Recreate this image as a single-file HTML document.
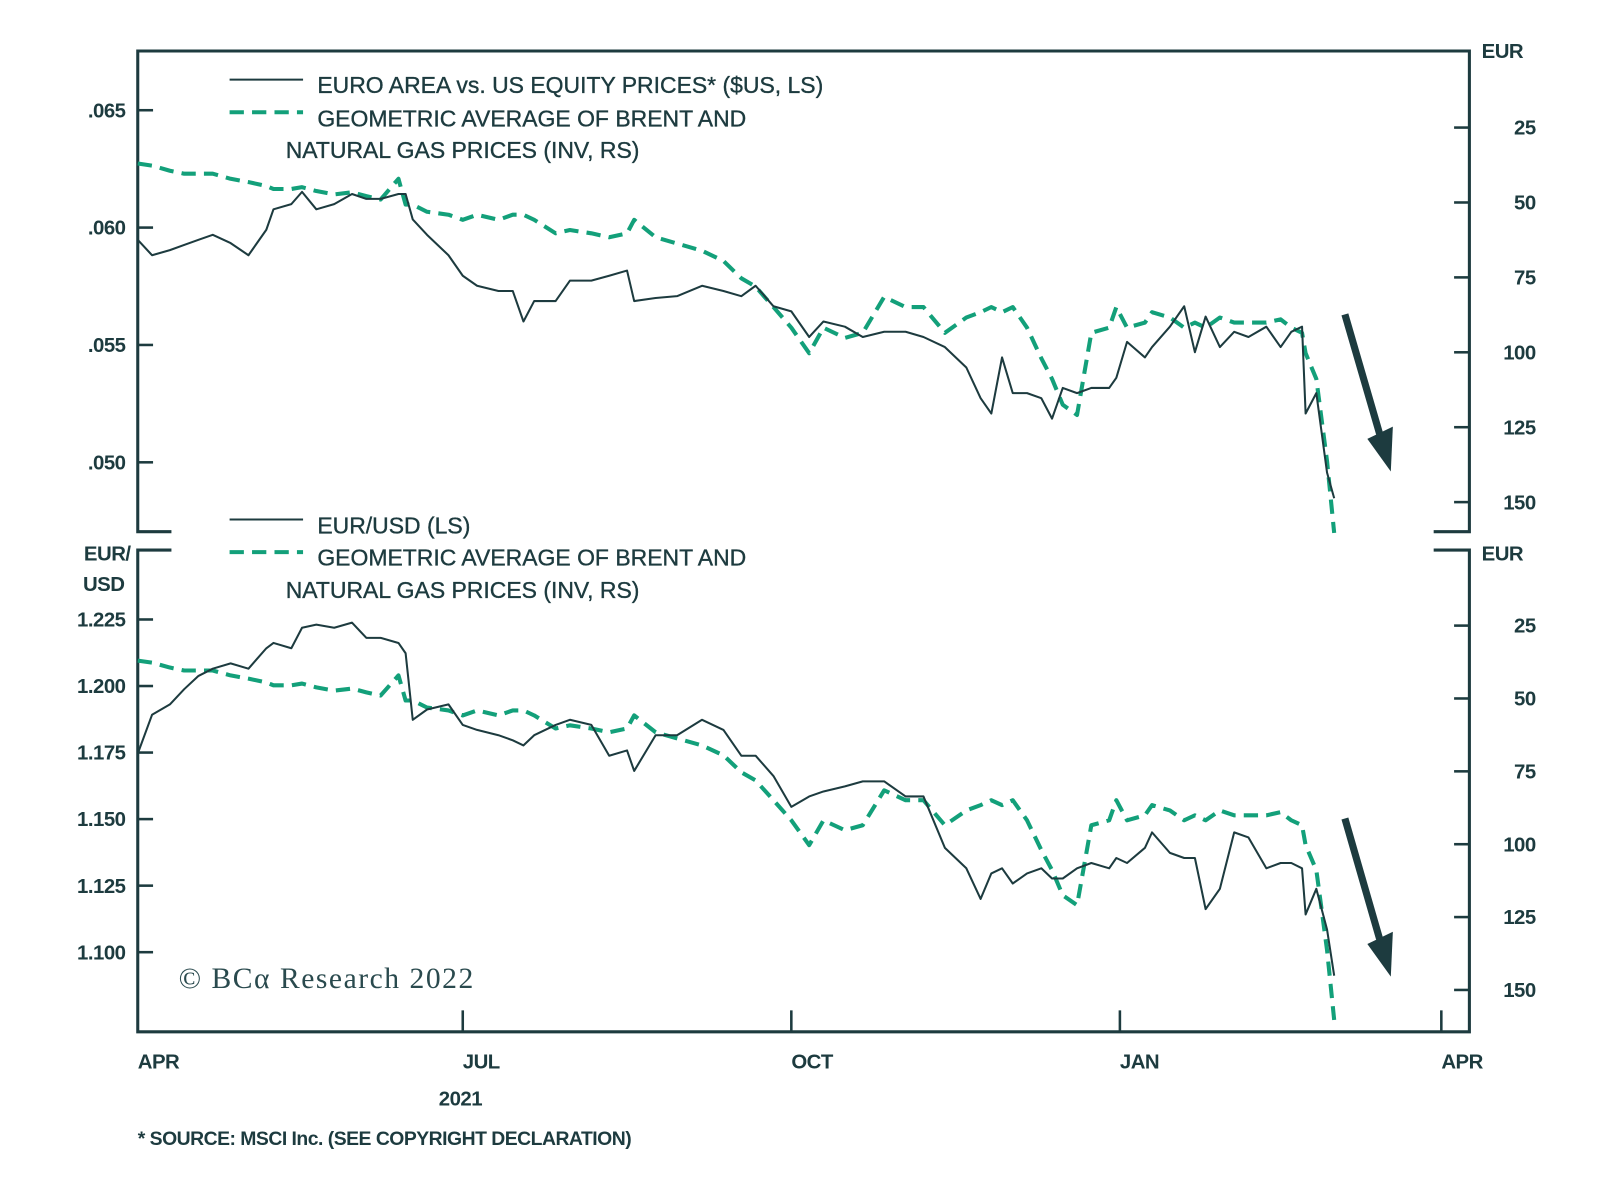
<!DOCTYPE html>
<html><head><meta charset="utf-8">
<style>
html,body{margin:0;padding:0;background:#fff;}
svg{display:block;}
text{font-family:"Liberation Sans",sans-serif;fill:#1d3b3f;}
.lab{font-size:22.5px;letter-spacing:0px;stroke:#1d3b3f;stroke-width:0.35px;}
.tick{font-size:20px;font-weight:bold;letter-spacing:-0.5px;}
</style></head>
<body>
<svg id="chart" width="1600" height="1191" viewBox="0 0 1568 1167" preserveAspectRatio="none" xmlns="http://www.w3.org/2000/svg">
<g id="frame" stroke="#1d3b3f" stroke-width="3" fill="none">
<polyline points="168,521 135,521 135,50 1440,50 1440,521 1405,521"/>
<polyline points="168,539 135,539 135,1011 1440,1011 1440,539 1405,539"/>
</g>
<g id="marks"></g>
<g id="legend-top">
<line x1="225" y1="78" x2="297" y2="78" stroke="#1d3b3f" stroke-width="2"/>
<text class="lab" x="311" y="91">EURO AREA vs. US EQUITY PRICES* ($US, LS)</text>
<line x1="225" y1="110" x2="297" y2="110" stroke="#13a07a" stroke-width="4" stroke-dasharray="14,8"/>
<text class="lab" x="311" y="124">GEOMETRIC AVERAGE OF BRENT AND</text>
<text class="lab" x="280" y="155">NATURAL GAS PRICES (INV, RS)</text>
</g>
<g id="legend-bottom">
<line x1="225" y1="509" x2="297" y2="509" stroke="#1d3b3f" stroke-width="2"/>
<text class="lab" x="311" y="523">EUR/USD (LS)</text>
<line x1="225" y1="541" x2="297" y2="541" stroke="#13a07a" stroke-width="4" stroke-dasharray="14,8"/>
<text class="lab" x="311" y="554">GEOMETRIC AVERAGE OF BRENT AND</text>
<text class="lab" x="280" y="586">NATURAL GAS PRICES (INV, RS)</text>
</g>
<text class="tick" x="128" y="549" text-anchor="end">EUR/</text>
<text class="tick" x="122" y="579" text-anchor="end">USD</text>
<text class="tick" x="1452" y="57">EUR</text>
<text class="tick" x="1452" y="549">EUR</text>
<text x="175" y="968" style="font-family:'Liberation Serif',serif;font-size:29px;letter-spacing:1.5px;fill:#2a4a4e">© BCα Research 2022</text>
<text class="tick" x="430" y="1083">2021</text>
<text x="135" y="1122" style="font-size:19px;font-weight:bold;letter-spacing:-0.5px">* SOURCE: MSCI Inc. (SEE COPYRIGHT DECLARATION)</text>
<g>
<line x1="1318" y1="308" x2="1352" y2="425" stroke="#1d3b3f" stroke-width="7"/>
<polygon points="1340,430 1365,418 1363,462" fill="#1d3b3f"/>
</g>
<g>
<line x1="1318" y1="802" x2="1352" y2="920" stroke="#1d3b3f" stroke-width="7"/>
<polygon points="1340,925 1365,913 1363,957" fill="#1d3b3f"/>
</g>
</svg>
<script>
// days since 1 Apr 2021
const days = [0,4,9,13,17,21,26,31,36,38,43,46,50,55,60,64,68,73,75,77,81,87,91,95,101,105,108,111,117,121,127,132,137,139,145,151,158,164,169,173,178,183,188,192,198,203,209,215,220,226,232,236,239,242,245,249,253,256,259,263,267,272,274,277,282,284,289,293,296,299,303,307,311,316,320,323,326,327,330,333,335];
const equityRatio = [.05948,.05882,.05904,.05926,.05948,.05969,.05934,.05882,.05991,.06078,.061,.06152,.06078,.061,.06143,.06122,.06122,.06143,.06143,.06035,.05969,.05882,.05795,.05752,.0573,.0573,.056,.05687,.05687,.05774,.05774,.05795,.05817,.05687,.057,.05708,.05752,.0573,.05708,.05752,.05665,.05643,.05534,.056,.05578,.05534,.05556,.05556,.05534,.05491,.05404,.05273,.05208,.05447,.05295,.05295,.05273,.05186,.05317,.05295,.05317,.05317,.0536,.05513,.05447,.05491,.05578,.05665,.05469,.05621,.05491,.05556,.05534,.05578,.05491,.05556,.05578,.05208,.05295,.04956,.04847];
const energyPrice = [37,37.7,39.4,40.4,40.4,40.4,42.1,43.2,44.5,45.5,45.5,44.9,46.2,47.3,46.6,47.9,49,42.1,50.7,50.7,53.1,54.1,55.8,54.1,55.8,54.1,54.1,55.8,60.3,59.2,60.3,61.6,60.3,55.8,61.6,63.7,66.1,69.5,75.3,78.1,84.9,91.8,100.3,91.8,95.2,93.5,81.5,84.9,84.9,93.5,88.4,86.6,84.9,86.6,84.9,91.8,102,108.9,117.5,120.9,93.5,91.8,84.9,91.8,90.1,86.6,88.4,91.8,90.1,91.8,88.4,90.1,90.1,90.1,89,91.8,93.5,100.3,108.9,136.3,160.3];
const eurusd = [1.1746,1.1892,1.1931,1.1988,1.2038,1.2065,1.2085,1.2065,1.2142,1.2162,1.2142,1.2219,1.2231,1.2219,1.2238,1.2181,1.2181,1.2162,1.2123,1.1873,1.1912,1.1931,1.1854,1.1835,1.1815,1.1796,1.1777,1.1815,1.1854,1.1873,1.1854,1.1738,1.1758,1.1681,1.1815,1.1815,1.1873,1.1835,1.1738,1.1738,1.1662,1.1546,1.1585,1.1604,1.1623,1.1642,1.1642,1.1585,1.1585,1.1392,1.1315,1.12,1.1296,1.1315,1.1258,1.1296,1.1315,1.1277,1.1277,1.1315,1.1335,1.1315,1.1354,1.1335,1.1392,1.145,1.1373,1.1354,1.1354,1.1162,1.1238,1.145,1.1431,1.1315,1.1335,1.1335,1.1315,1.1142,1.1238,1.1085,1.0912];
const topLeftTicks = [".065",".060",".055",".050"];
const topLeftTickVals = [.065,.060,.055,.050];
const bottomLeftTicks = ["1.225","1.200","1.175","1.150","1.125","1.100"];
const bottomLeftTickVals = [1.225,1.2,1.175,1.15,1.125,1.1];
const rightTicks = ["25","50","75","100","125","150"];
const rightTickVals = [25,50,75,100,125,150];
const monthLabels = ["APR","JUL","OCT","JAN","APR"];
const monthDays = [0,91,183,275,365];

const NS="http://www.w3.org/2000/svg";
const g=document.getElementById('marks');
const xS=d=>135+d*3.5;
const yTopL=v=>108+(0.065-v)/0.015*345;
const yTopR=v=>125+(v-25)/125*367;
const yBotL=v=>607+(1.225-v)/0.125*326;
const yBotR=v=>613+(v-25)/125*357;
function mk(tag,attrs){const e=document.createElementNS(NS,tag);for(const k in attrs)e.setAttribute(k,attrs[k]);g.appendChild(e);return e;}
function line(vals,yf,dash,color,w,name){
  const pts=vals.map((v,i)=>xS(days[i]).toFixed(1)+','+yf(v).toFixed(1)).join(' ');
  const p=mk('polyline',{points:pts,fill:'none',stroke:color,'stroke-width':w,'stroke-linejoin':'round'});
  if(dash)p.setAttribute('stroke-dasharray',dash);
  
  
}
line(energyPrice,yTopR,'14,8','#13a07a',4,'energy-line-top');
line(equityRatio,yTopL,null,'#1d3b3f',2,'equity-ratio-line');
line(energyPrice,yBotR,'14,8','#13a07a',4,'energy-line-bottom');
line(eurusd,yBotL,null,'#1d3b3f',2,'eurusd-line');
function tickSet(labels,vals,yf,side){
  labels.forEach((l,i)=>{
    const y=yf(vals[i]);
    const x1=side==='L'?135:1425, x2=side==='L'?150:1440;
    const t=mk('line',{x1:x1,x2:x2,y1:y,y2:y,stroke:'#1d3b3f','stroke-width':2.5});
    
    
    const tx=mk('text',{x:side==='L'?123:1505,y:y+7,'text-anchor':'end',class:'tick'});
    tx.textContent=l;
    
    
  });
}
tickSet(topLeftTicks,topLeftTickVals,yTopL,'L');
tickSet(bottomLeftTicks,bottomLeftTickVals,yBotL,'L');
tickSet(rightTicks,rightTickVals,yTopR,'R');
tickSet(rightTicks,rightTickVals,yBotR,'R');
monthLabels.forEach((m,i)=>{
  const x=xS(monthDays[i]);
  if(i>0){const t=mk('line',{x1:x,x2:x,y1:990,y2:1011,stroke:'#1d3b3f','stroke-width':2.5});
    
    }
  const tx=mk('text',{x:x,y:1047,class:'tick'});
  tx.textContent=m;
  
  
});
</script>
</body></html>
